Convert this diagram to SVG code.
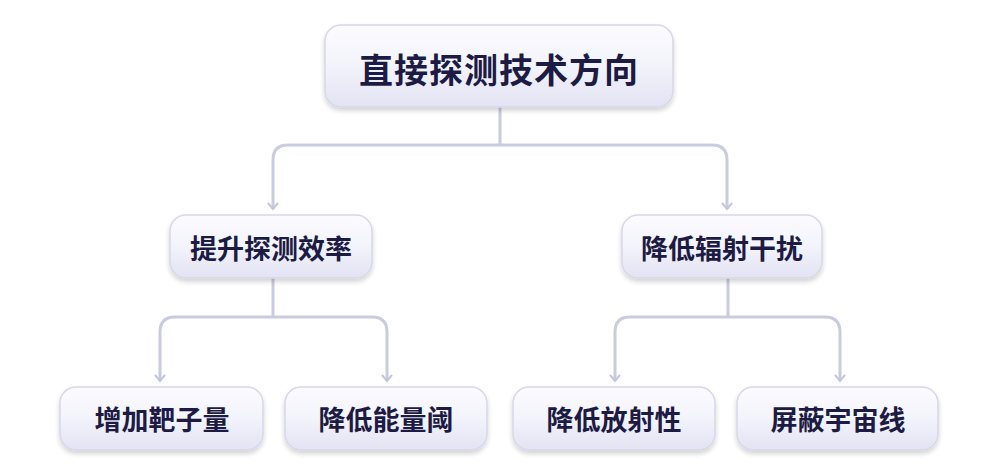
<svg xmlns="http://www.w3.org/2000/svg" width="1000" height="475" viewBox="0 0 1000 475">
<defs>
<linearGradient id="g" x1="0" y1="0" x2="0" y2="1">
<stop offset="0" stop-color="#fbfbff"/>
<stop offset="0.5" stop-color="#f3f3fb"/>
<stop offset="1" stop-color="#e2e3f3"/>
</linearGradient>
<filter id="sh" x="-10%" y="-20%" width="120%" height="150%">
<feGaussianBlur in="SourceAlpha" stdDeviation="2.5"/>
<feOffset dx="0" dy="3" result="b"/>
<feComponentTransfer><feFuncA type="linear" slope="0.18"/></feComponentTransfer>
<feMerge><feMergeNode/><feMergeNode in="SourceGraphic"/></feMerge>
</filter>
<marker id="arr" viewBox="0 0 10 12" refX="8" refY="6" markerWidth="10" markerHeight="12" markerUnits="userSpaceOnUse" orient="auto">
<path d="M2,1 L8,6 L2,11" fill="none" stroke="#c3c6da" stroke-width="2"/>
</marker>
</defs>
<style>
.box{fill:url(#g);stroke:#d6d8e6;stroke-width:1.5;filter:url(#sh)}
.t{font-family:"Noto Sans CJK SC","Noto Sans CJK TC",sans-serif;font-weight:700;fill:#1b1b45;text-anchor:middle;dominant-baseline:central}
.c{fill:none;stroke:#c9cbde;stroke-width:3}
</style>
<rect width="1000" height="475" fill="#ffffff"/>
<g id="connectors">
<path class="c" d="M500,107 V145"/>
<path class="c" d="M500,145 H288 Q273,145 273,160 V209" marker-end="url(#arr)"/>
<path class="c" d="M500,145 H712 Q727,145 727,160 V209" marker-end="url(#arr)"/>
<path class="c" d="M273,278 V317"/>
<path class="c" d="M273,317 H175 Q160,317 160,332 V381" marker-end="url(#arr)"/>
<path class="c" d="M273,317 H372 Q387,317 387,332 V381" marker-end="url(#arr)"/>
<path class="c" d="M728,278 V317"/>
<path class="c" d="M728,317 H630 Q615,317 615,332 V381" marker-end="url(#arr)"/>
<path class="c" d="M728,317 H825 Q840,317 840,332 V381" marker-end="url(#arr)"/>
</g>
<g id="root">
<rect class="box" x="325" y="25" width="348" height="82" rx="16"/>
<text class="t" x="499" y="68" font-size="34" letter-spacing="1">直接探测技术方向</text>
</g>
<g id="n1">
<rect class="box" x="170" y="215" width="202" height="63" rx="16"/>
<text class="t" x="271" y="247" font-size="27">提升探测效率</text>
</g>
<g id="n2">
<rect class="box" x="622" y="215" width="200" height="63" rx="16"/>
<text class="t" x="722" y="247" font-size="27">降低辐射干扰</text>
</g>
<g id="n3">
<rect class="box" x="60" y="387" width="203" height="63" rx="16"/>
<text class="t" x="162" y="418" font-size="27">增加靶子量</text>
</g>
<g id="n4">
<rect class="box" x="285" y="387" width="202" height="63" rx="16"/>
<text class="t" x="386" y="418" font-size="27">降低能量阈</text>
</g>
<g id="n5">
<rect class="box" x="513" y="387" width="202" height="63" rx="16"/>
<text class="t" x="614" y="418" font-size="27">降低放射性</text>
</g>
<g id="n6">
<rect class="box" x="737" y="387" width="201" height="63" rx="16"/>
<text class="t" x="838" y="418" font-size="27">屏蔽宇宙线</text>
</g>
</svg>
